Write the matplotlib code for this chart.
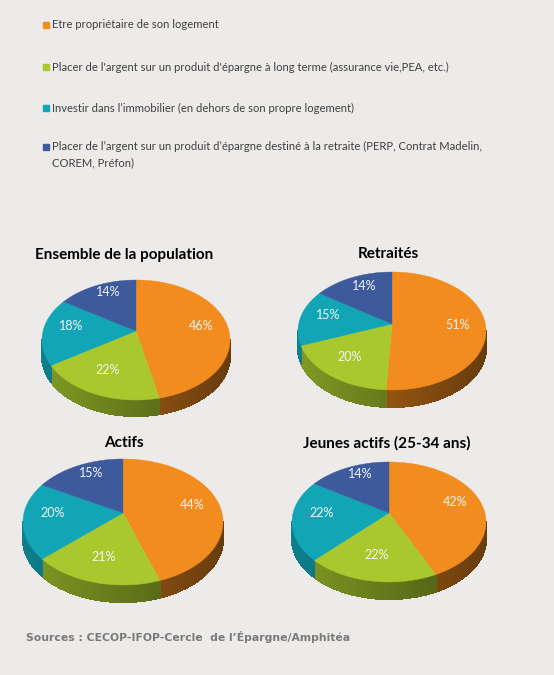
import numpy as np
import matplotlib
matplotlib.use("Agg")
import matplotlib.pyplot as plt
from matplotlib.patches import Polygon, Rectangle
from matplotlib.collections import PolyCollection
from matplotlib.colors import to_rgb

# données
groups = ["Ensemble de la population", "Retraités", "Actifs", "Jeunes actifs (25-34 ans)"]
proprietaire = [46, 51, 44, 42]
epargne_long = [22, 20, 21, 22]
immobilier = [18, 15, 20, 22]
retraite = [14, 14, 15, 14]

legend_labels = [
    "Etre propriétaire de son logement",
    "Placer de l'argent sur un produit d'épargne à long terme (assurance vie,PEA, etc.)",
    "Investir dans l\u2019immobilier (en dehors de son propre logement)",
    "Placer de l\u2019argent sur un produit d\u2019épargne destiné à la retraite (PERP, Contrat Madelin,\nCOREM, Préfon)",
]
source = "Sources : CECOP-IFOP-Cercle  de l\u2019Épargne/Amphitéa"

colors = ["#F28C1E", "#A8C82E", "#12A5B6", "#3D5A9C"]
bg = "#EDEBE9"

# géométrie des camemberts (pixels)
layout = [
    dict(cx=136, cy=340, a=94, b=60, apex=-9, depth=16, tx=124, ty=255),
    dict(cx=392, cy=331, a=94, b=59, apex=-7, depth=17, tx=388, ty=254),
    dict(cx=123, cy=522, a=100, b=63, apex=-9, depth=17, tx=124, ty=443),
    dict(cx=389, cy=522, a=97, b=60, apex=-9, depth=17, tx=387, ty=443),
]

plt.rcParams['font.family'] = ['Lato', 'DejaVu Sans']

fig = plt.figure(figsize=(5.54, 6.75), dpi=100)
fig.patch.set_facecolor(bg)
ax = fig.add_axes([0, 0, 1, 1])
ax.set_xlim(0, 554)
ax.set_ylim(675, 0)
ax.axis("off")

# légende
leg_y = [25, 67, 108, 147]
for col, lab, y in zip(colors, legend_labels, leg_y):
    ax.add_patch(Rectangle((43, y - 3), 6, 6, color=col))
    if "\n" in lab:
        ax.text(52, y - 6.5, lab, fontsize=8.1, color="#404040", va="top", linespacing=1.6)
    else:
        ax.text(52, y, lab, fontsize=8.1, color="#404040", va="center")


def pt(g, th):
    return g["cx"] + g["a"] * np.cos(th), g["cy"] - g["b"] * np.sin(th)


def draw_pie(g, values):
    vals = np.array(values, dtype=float)
    cum = np.concatenate([[0], np.cumsum(vals) / vals.sum()])
    th = np.deg2rad(90 - 360 * cum)
    apex = (g["cx"], g["cy"] + g["apex"])
    # côtés (dégradé)
    strips, scols = [], []
    for i in range(len(vals)):
        lo = max(th[i + 1], -np.pi)
        hi = min(th[i], 0.0)
        if hi <= lo:
            continue
        ts = np.linspace(lo, hi, max(int(np.degrees(hi - lo) / 2), 2) + 1)
        base = np.array(to_rgb(colors[i]))
        for t0, t1 in zip(ts[:-1], ts[1:]):
            x0, y0 = pt(g, t0)
            x1, y1 = pt(g, t1)
            d = g["depth"]
            strips.append([(x0, y0), (x1, y1), (x1, y1 + d), (x0, y0 + d)])
            tm = 0.5 * (t0 + t1)
            shade = 0.60 - 0.17 * np.cos(tm)
            scols.append(np.clip(base * shade, 0, 1))
    ax.add_collection(PolyCollection(strips, facecolors=scols, edgecolors=scols,
                                     linewidths=0.8, antialiaseds=False))
    # faces
    for i in range(len(vals)):
        ts = np.linspace(th[i], th[i + 1], 120)
        xs, ys = pt(g, ts)
        poly = [apex] + list(zip(xs, ys))
        ax.add_patch(Polygon(poly, closed=True, facecolor=colors[i], edgecolor=colors[i], lw=0.3))
        tm = 0.5 * (th[i] + th[i + 1])
        lx = apex[0] + 0.70 * g["a"] * np.cos(tm)
        ly = apex[1] - 0.72 * g["b"] * np.sin(tm)
        ax.text(lx, ly, f"{int(vals[i])}%", fontsize=9, color="#F4F4F4",
                ha="center", va="center")


for k, g in enumerate(layout):
    vals = [proprietaire[k], epargne_long[k], immobilier[k], retraite[k]]
    draw_pie(g, vals)
    ax.text(g["tx"], g["ty"], groups[k], fontsize=11, fontweight="bold",
            color="black", ha="center", va="center")

ax.text(26, 637, source, fontsize=7.8, fontweight="bold", color="#7A7A7A",
        va="center", family="DejaVu Sans")

fig.savefig("out.png", dpi=100, facecolor=bg)
